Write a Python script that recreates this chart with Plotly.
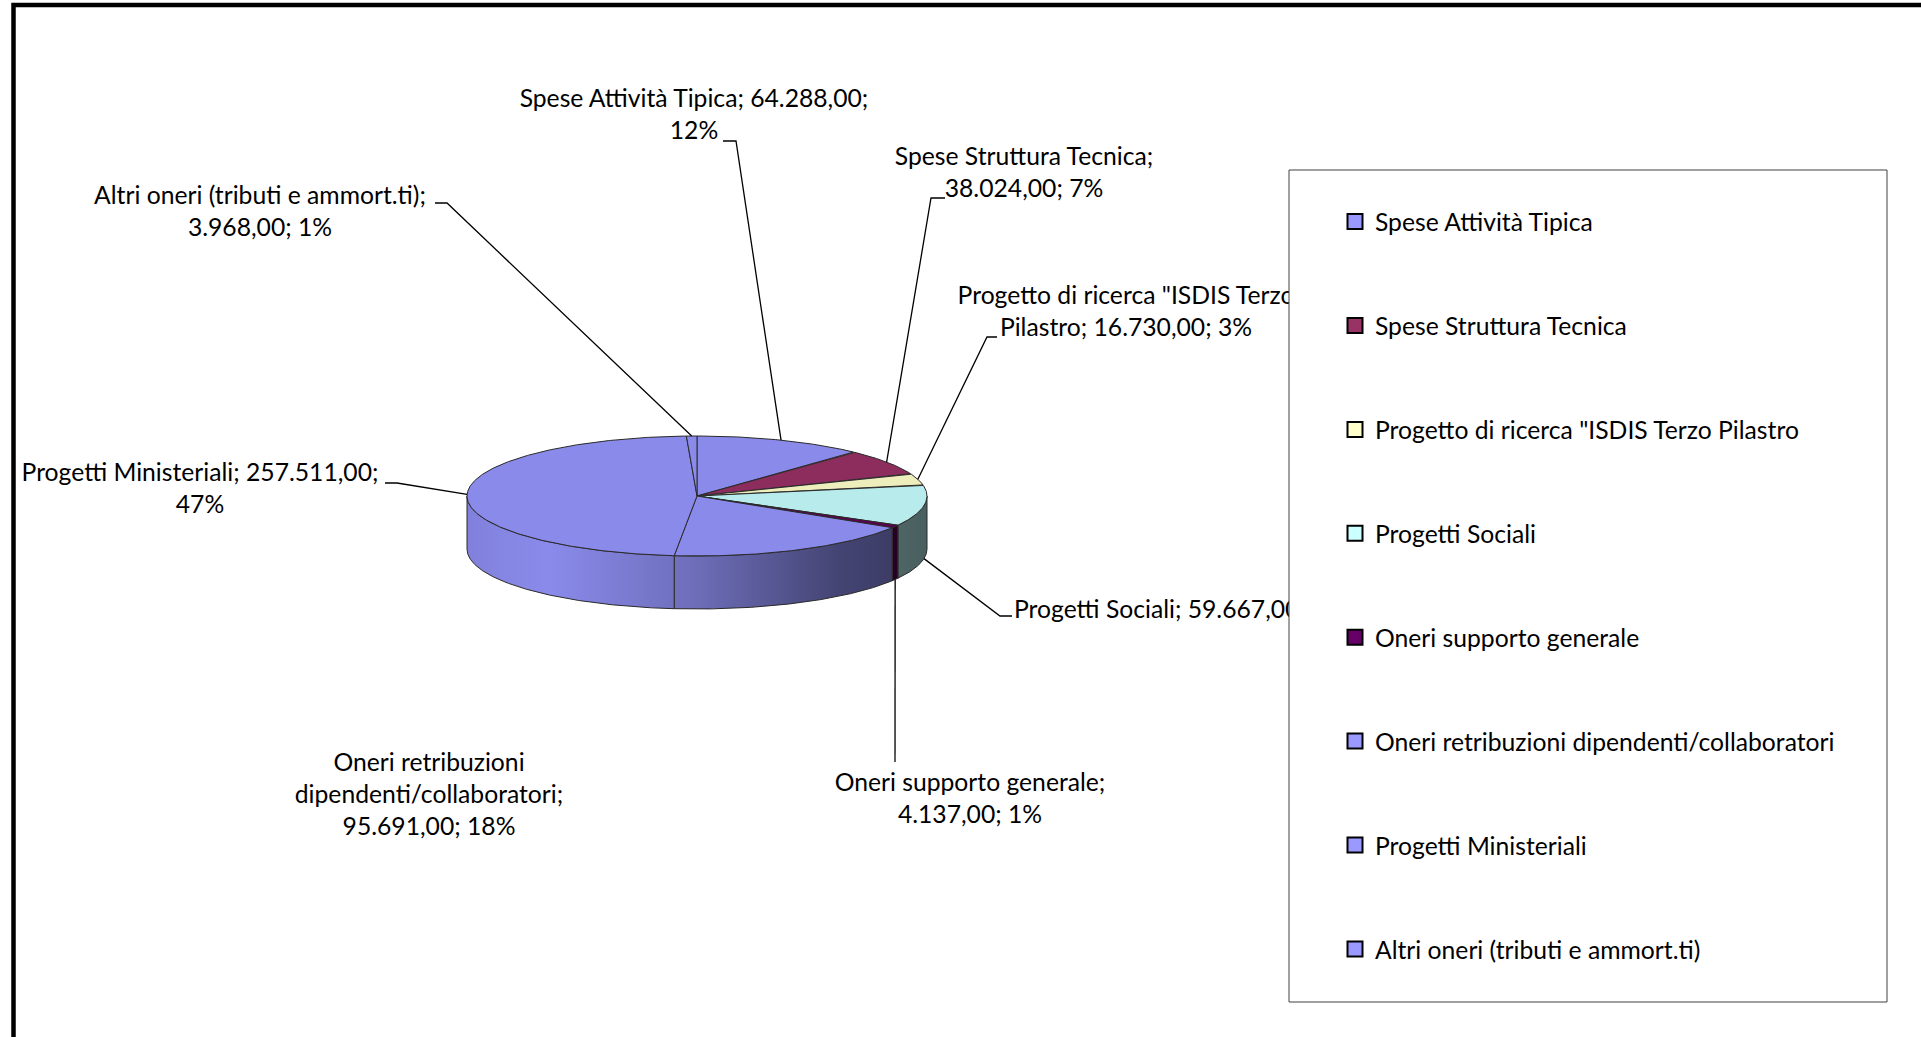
import math
import textwrap
import plotly.graph_objects as go

# ---------------- data ----------------
categories = [
    "Spese Attività Tipica",
    "Spese Struttura Tecnica",
    'Progetto di ricerca "ISDIS Terzo Pilastro',
    "Progetti Sociali",
    "Oneri supporto generale",
    "Oneri retribuzioni dipendenti/collaboratori",
    "Progetti Ministeriali",
    "Altri oneri (tributi e ammort.ti)",
]
values = [64288.00, 38024.00, 16730.00, 59667.00, 4137.00, 95691.00, 257511.00, 3968.00]
percent_labels = [12, 7, 3, 11, 1, 18, 47, 1]

# ---------------- styles ----------------
legend_colors = ["#9999FF", "#993366", "#FFFFCC", "#CCFFFF", "#660066", "#9999FF", "#9999FF", "#9999FF"]
top_colors = ["#8A8AEB", "#8C2D5E", "#EEEEBC", "#B8ECEC", "#5E0052", "#8A8AEB", "#8A8AEB", "#8A8AEB"]
FONT = "Lato"
FS = 24.7

# pie geometry (pixel-like axis units)
CX, CY, RX, RY, DEPTH = 697, 496, 230, 60, 53

# label layout: centre position, wrap width, text position, leader knee/end
label_pos = [(694, 117), (1024, 175), (1126, 314), (1014, 612), (970, 801), (429, 797), (200, 491), (260, 214)]
label_wrap = [33, 24, 32, 40, 24, 25, 34, 34]
label_tpos = ["middle center"] * 3 + ["middle right"] + ["middle center"] * 4
leader_knee = [(736, 141), (931, 198), (987, 337), (1000, 616), (895, 762), None, (397, 483), (447, 203)]
leader_end = [(723, 141), (945, 198), (997, 337), (1012, 616), (895, 762), None, (385, 483), (435, 203)]


def fmt_it(v):
    s = f"{v:,.2f}"
    return s.replace(",", "X").replace(".", ",").replace("X", ".")


def pt(t_deg, dy=0.0):
    t = math.radians(t_deg)
    return CX + RX * math.sin(t), CY - RY * math.cos(t) + dy


def arc(a, b, dy=0.0):
    n = max(2, int(abs(b - a) / 0.5) + 1)
    xs, ys = [], []
    for i in range(n + 1):
        x, y = pt(a + (b - a) * i / n, dy)
        xs.append(x)
        ys.append(y)
    return xs, ys


def shade(hexc, f):
    r, g, b = int(hexc[1:3], 16), int(hexc[3:5], 16), int(hexc[5:7], 16)
    return "rgb(%d,%d,%d)" % (min(255, r * f), min(255, g * f), min(255, b * f))


total = sum(values)
angles = []
acc = 0.0
for v in values:
    a0 = acc / total * 360.0
    acc += v
    a1 = acc / total * 360.0
    angles.append((a0, a1))

fig = go.Figure()
OUT = "#2a2a2a"

# side walls (visible front half)
for i, (a0, a1) in enumerate(angles):
    a, b = max(a0, 90.0), min(a1, 270.0)
    if a >= b:
        continue
    tx, ty = arc(a, b)
    bx, by = arc(b, a, DEPTH)
    c = top_colors[i]
    fig.add_trace(go.Scatter(
        x=tx + bx + [tx[0]], y=ty + by + [ty[0]], mode="lines", fill="toself",
        line=dict(color=OUT, width=1),
        fillgradient=dict(type="horizontal", start=CX - RX, stop=CX + RX,
                          colorscale=[[0, shade(c, 0.94)], [0.18, shade(c, 1.0)], [0.5, shade(c, 0.79)],
                                      [0.8, shade(c, 0.50)], [1, shade(c, 0.40)]]),
        showlegend=False, hoverinfo="skip"))

# top faces
for i, (a0, a1) in enumerate(angles):
    xs, ys = arc(a0, a1)
    fig.add_trace(go.Scatter(
        x=[CX] + xs + [CX], y=[CY] + ys + [CY], mode="lines", fill="toself",
        fillcolor=top_colors[i], line=dict(color=OUT, width=1),
        showlegend=False, hoverinfo="skip"))

# leader lines
lx, ly = [], []
for i, (a0, a1) in enumerate(angles):
    if leader_knee[i] is None:
        continue
    tm = (a0 + a1) / 2
    px, py = pt(tm, DEPTH if 90 < tm < 270 else 0)
    kx, ky = leader_knee[i]
    ex, ey = leader_end[i]
    lx += [px, kx, ex, None]
    ly += [py, ky, ey, None]
fig.add_trace(go.Scatter(x=lx, y=ly, mode="lines", line=dict(color="black", width=1.3),
                         showlegend=False, hoverinfo="skip"))

# data labels
texts = []
for i, c in enumerate(categories):
    s = f"{c}; {fmt_it(values[i])}; {percent_labels[i]}%"
    texts.append("<br>".join(textwrap.wrap(s, width=label_wrap[i])))
fig.add_trace(go.Scatter(
    x=[p[0] for p in label_pos], y=[p[1] for p in label_pos], mode="text", text=texts,
    textposition=label_tpos, textfont=dict(family=FONT, size=FS, color="black"),
    showlegend=False, hoverinfo="skip", cliponaxis=False))

# legend entries
for i, c in enumerate(categories):
    fig.add_trace(go.Scatter(
        x=[None], y=[None], mode="markers", name=c, legendgroup=str(i),
        marker=dict(symbol="square", size=15, color=legend_colors[i], line=dict(color="black", width=2))))

W, H = 1921, 1037
fig.update_layout(
    width=W, height=H, margin=dict(l=0, r=0, t=0, b=0),
    paper_bgcolor="white", plot_bgcolor="white", hovermode=False,
    xaxis=dict(range=[0, W], visible=False, fixedrange=True),
    yaxis=dict(range=[H, 0], visible=False, fixedrange=True),
    showlegend=True,
    legend=dict(x=1335 / W, y=1 - 199 / H, xanchor="left", yanchor="top",
                bgcolor="rgba(0,0,0,0)", borderwidth=0, tracegroupgap=68.8,
                font=dict(family=FONT, size=FS, color="black"), itemclick=False, itemdoubleclick=False),
    shapes=[
        dict(type="rect", xref="x", yref="y", x0=1289, y0=170, x1=1887, y1=1002,
             fillcolor="white", line=dict(color="#404040", width=1), layer="above"),
        dict(type="rect", xref="x", yref="y", x0=13.5, y0=5, x1=1990, y1=1100,
             fillcolor="rgba(0,0,0,0)", line=dict(color="black", width=4.5), layer="above"),
    ],
)

fig.write_html("out.html")
